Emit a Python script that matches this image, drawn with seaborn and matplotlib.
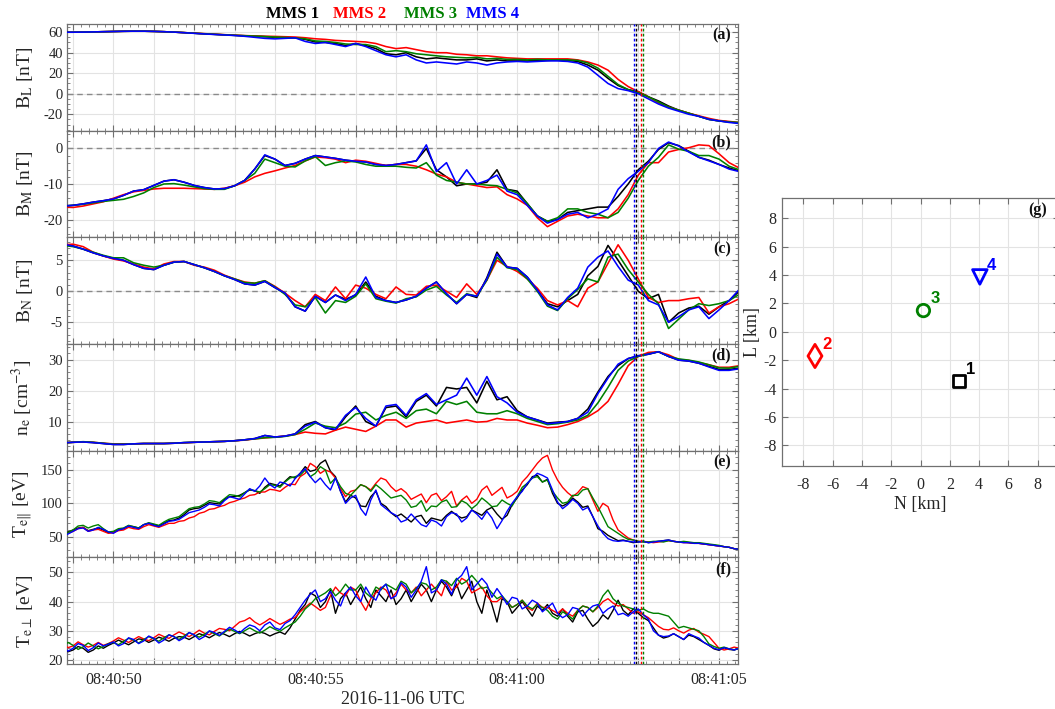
import numpy as np
import pandas as pd
import matplotlib
matplotlib.use("Agg")
import matplotlib.pyplot as plt
import seaborn as sns
from matplotlib.ticker import MultipleLocator, AutoMinorLocator

# ---------------- data ----------------
sc_names = ["MMS 1", "MMS 2", "MMS 3", "MMS 4"]
sc_colors = ["#000000", "#ff0000", "#008000", "#0000ff"]

# time: seconds after 08:40:50 UTC, 0.25 s samples
t_start, dt, n_pts = -1.25, 0.25, 68
time_s = t_start + dt * np.arange(n_pts)

tick_times = [0, 5, 10, 15]
tick_labels = ["08:40:50", "08:40:55", "08:41:00", "08:41:05"]

# crossing times (s after 08:40:50) for MMS1..4
cross_t = [12.95, 13.07, 13.11, 12.90]

BL1 = [60.0, 60.0, 60.1, 60.3, 60.5, 60.7, 60.9, 61.0, 61.0, 60.8, 60.5, 60.1,
       59.6, 59.0, 58.4, 57.9, 57.4, 56.9, 56.5, 56.2, 55.6, 55.0, 54.6, 54.5,
       53.0, 50.5, 50.0, 49.0, 47.0, 49.0, 47.0, 44.0, 39.0, 38.0, 40.0, 36.0,
       34.0, 35.0, 34.0, 33.0, 33.0, 34.0, 32.0, 33.0, 32.0, 32.0, 32.0, 32.5,
       32.5, 33.0, 32.5, 31.5, 28.0, 23.0, 15.0, 8.0, 4.0, 2.0, -3.0, -7.0,
       -12.0, -16.0, -19.0, -22.0, -25.0, -26.5, -27.5, -28.5]
BL2 = [60.0, 60.0, 60.1, 60.3, 60.5, 60.7, 60.9, 61.0, 61.0, 60.8, 60.5, 60.1,
       59.6, 59.1, 58.6, 58.1, 57.6, 57.1, 56.7, 56.4, 56.1, 55.9, 55.6, 55.3,
       54.6, 53.6, 53.0, 52.0, 51.5, 51.0, 50.5, 49.0, 46.0, 44.0, 45.0, 43.0,
       41.0, 40.0, 40.0, 38.5, 38.0, 37.0, 37.0, 36.0, 35.0, 34.5, 34.0, 34.0,
       34.0, 34.0, 34.0, 33.0, 31.0, 28.0, 23.0, 14.0, 7.0, 2.0, -3.0, -9.0,
       -13.0, -16.0, -19.0, -21.5, -24.0, -26.0, -27.0, -28.0]
BL3 = [60.0, 60.0, 60.1, 60.3, 60.5, 60.7, 60.9, 61.0, 61.0, 60.8, 60.5, 60.1,
       59.6, 59.0, 58.5, 58.0, 57.5, 57.0, 56.6, 56.2, 55.8, 55.3, 54.9, 54.5,
       53.5, 51.5, 51.0, 50.0, 48.5, 48.0, 48.0, 46.0, 41.0, 42.0, 41.0, 39.0,
       38.0, 37.0, 36.0, 35.5, 35.0, 35.5, 34.0, 34.5, 33.5, 33.5, 33.0, 33.5,
       33.0, 33.0, 33.0, 32.5, 30.0, 25.0, 17.0, 9.0, 4.0, 1.0, -3.0, -8.0,
       -13.0, -16.0, -19.0, -22.0, -25.0, -26.5, -27.5, -28.0]
BL4 = [60.0, 60.0, 60.1, 60.3, 60.5, 60.7, 60.9, 61.0, 61.0, 60.8, 60.5, 60.1,
       59.5, 58.9, 58.3, 57.8, 57.3, 56.8, 56.0, 55.0, 54.0, 53.5, 54.0, 54.5,
       51.0, 49.0, 50.0, 48.0, 46.0, 49.0, 46.0, 42.0, 38.0, 36.0, 38.0, 33.0,
       30.0, 31.0, 30.0, 29.0, 31.0, 30.0, 28.0, 30.0, 31.0, 31.5, 31.0, 31.5,
       32.0, 32.0, 31.5, 30.0, 26.0, 18.0, 10.0, 5.0, 3.0, 0.0, -5.0, -10.0,
       -14.0, -17.0, -20.0, -22.0, -25.0, -26.5, -28.0, -29.0]

BM1 = [-16.2, -16.0, -15.6, -15.1, -14.7, -14.2, -13.2, -12.0, -11.6, -10.4, -9.2, -8.8,
       -9.5, -10.4, -11.0, -11.4, -11.3, -10.5, -9.0, -5.8, -2.0, -3.0, -4.8, -4.2,
       -3.0, -2.0, -2.4, -2.8, -3.3, -3.6, -3.8, -4.5, -4.8, -4.5, -4.0, -3.5,
       0.0, -6.0, -8.0, -10.5, -10.0, -10.0, -9.5, -6.0, -11.5, -12.0, -15.5, -19.0,
       -20.5, -20.0, -18.0, -17.5, -17.0, -16.5, -16.5, -13.5, -10.0, -6.0, -3.6, -0.3,
       1.6, 0.8, -0.8, -2.5, -3.3, -4.5, -5.5, -6.3]
BM2 = [-16.5, -16.6, -16.2, -15.6, -15.0, -14.0, -13.0, -12.2, -11.8, -11.4, -11.2, -11.2,
       -11.2, -11.3, -11.4, -11.5, -11.2, -10.5, -9.5, -8.0, -7.0, -6.3, -5.5, -4.8,
       -3.5, -2.4, -2.6, -3.0, -4.0, -3.3, -3.6, -4.2, -4.8, -4.5, -4.5, -5.0,
       -6.0, -7.2, -8.0, -9.5, -10.0, -10.5, -11.0, -10.8, -13.0, -14.2, -16.0, -19.5,
       -22.0, -20.5, -19.0, -18.5, -19.0, -19.5, -19.5, -17.0, -13.0, -7.5, -4.0, -4.0,
       -1.0, -0.3, 0.2, 1.0, 0.8, -1.5, -4.0, -5.5]
BM3 = [-16.2, -16.0, -15.7, -15.3, -14.9, -14.6, -14.3, -13.5, -12.5, -11.0, -10.0, -9.9,
       -10.3, -10.8, -11.3, -11.5, -11.5, -10.5, -9.0, -7.0, -3.0, -4.0, -5.0, -5.2,
       -3.5, -2.3, -4.8, -4.0, -3.5, -3.8, -4.5, -5.0, -5.0, -5.0, -5.3, -5.5,
       -4.0, -7.5, -9.0, -9.5, -10.0, -10.0, -10.3, -10.5, -11.5, -12.5, -15.5, -19.0,
       -20.5, -19.5, -17.0, -17.0, -18.0, -18.5, -19.5, -18.0, -14.0, -9.0, -5.0, -2.5,
       1.0, -0.2, -0.8, -2.0, -2.0, -3.0, -5.0, -6.0]
BM4 = [-16.2, -16.0, -15.6, -15.1, -14.7, -14.2, -13.2, -12.0, -11.6, -10.4, -9.2, -8.8,
       -9.5, -10.4, -11.0, -11.4, -11.3, -10.5, -9.0, -5.8, -1.8, -3.0, -4.8, -4.2,
       -3.0, -2.0, -2.4, -2.8, -3.3, -3.6, -3.8, -4.5, -4.8, -4.5, -4.0, -3.5,
       1.0, -6.5, -4.0, -10.0, -6.0, -10.0, -9.0, -7.5, -12.0, -13.0, -16.0, -19.0,
       -21.0, -20.0, -18.5, -18.0, -19.5, -18.5, -17.0, -11.5, -8.5, -6.4, -4.0, 0.0,
       1.8, 0.7, -1.0, -2.5, -3.5, -4.5, -5.8, -6.5]

BN1 = [7.6, 7.3, 6.8, 6.2, 5.7, 5.3, 5.0, 4.3, 3.7, 3.5, 4.2, 4.7,
       4.8, 4.3, 3.8, 3.2, 2.5, 1.9, 1.2, 1.0, 1.6, 0.6, -0.3, -2.5,
       -3.2, -0.8, -1.8, -0.6, -1.3, -0.6, 1.5, -0.8, -1.5, -1.8, -1.4, -0.8,
       0.5, 1.5, -0.4, -2.0, -0.5, -1.0, 2.2, 6.3, 3.9, 3.7, 2.3, 0.2,
       -2.0, -2.5, -1.5, -0.5, 2.5, 4.0, 7.4, 5.0, 2.5, 0.0, -1.2, -0.5,
       -5.0, -3.5, -2.7, -2.4, -3.7, -2.5, -1.5, 0.0]
BN2 = [7.5, 7.6, 7.2, 6.3, 5.7, 5.2, 4.9, 4.4, 3.9, 3.6, 4.4, 4.8,
       4.8, 4.2, 3.9, 3.4, 2.6, 2.0, 1.5, 1.3, 1.7, 0.8, -0.3, -1.5,
       -2.5, -0.5, -1.5, 0.7, -1.2, 1.0, 0.5, -0.5, -1.2, 0.7, -0.5, -0.6,
       0.8, 1.0, 0.0, -1.0, 1.2, -0.5, 1.8, 5.0, 4.0, 3.2, 2.0, 0.5,
       -1.5, -2.2, -1.5, -2.5, 0.5, 1.5, 4.5, 7.5, 5.0, 2.0, -1.0, -1.8,
       -1.5, -1.5, -1.2, -1.0, -3.5, -2.5, -2.0, -1.2]
BN3 = [7.4, 7.2, 6.8, 6.3, 5.8, 5.4, 5.4, 4.6, 4.2, 3.9, 4.2, 4.7,
       4.8, 4.3, 3.8, 3.2, 2.5, 2.0, 1.4, 1.3, 1.7, 0.7, -0.5, -2.2,
       -2.5, -1.0, -3.5, -1.5, -1.8, -0.8, 1.2, -1.2, -1.6, -1.9, -1.2, -0.9,
       0.2, 0.8, -0.6, -1.8, -0.4, -0.8, 1.8, 5.5, 3.8, 3.5, 2.0, 0.0,
       -2.4, -3.1, -1.2, 0.3, 2.0, 1.5, 5.5, 6.0, 3.5, 1.5, -0.5, -2.0,
       -6.0, -4.5, -3.0, -2.0, -2.3, -2.0, -1.5, -0.5]
BN4 = [7.6, 7.3, 6.8, 6.2, 5.7, 5.3, 5.0, 4.3, 3.7, 3.5, 4.2, 4.7,
       4.8, 4.3, 3.8, 3.2, 2.5, 1.9, 1.2, 1.0, 1.6, 0.6, -0.3, -2.5,
       -3.2, -0.8, -1.8, -0.6, -1.5, -0.5, 2.3, -1.0, -1.5, -1.8, -1.4, -0.8,
       0.5, 1.5, -0.4, -2.0, -0.5, -0.8, 2.0, 6.0, 3.9, 3.7, 2.3, 0.2,
       -2.2, -3.0, -1.0, 0.5, 3.9, 5.5, 6.5, 4.0, 1.8, 1.0, -1.5, -2.2,
       -5.0, -4.1, -3.0, -2.5, -4.4, -3.0, -1.5, 0.3]

NE1 = [3.1, 3.3, 3.4, 3.2, 2.9, 2.6, 2.6, 2.8, 2.9, 2.9, 2.9, 3.0,
       3.2, 3.3, 3.4, 3.5, 3.6, 3.8, 4.1, 4.5, 5.5, 5.0, 5.3, 6.0,
       9.0, 10.0, 8.0, 7.2, 11.5, 15.0, 10.0, 8.5, 14.5, 15.0, 11.5, 16.5,
       18.5, 15.0, 21.0, 20.5, 21.0, 16.0, 23.0, 17.0, 18.0, 13.5, 11.5, 10.5,
       9.5, 9.8, 10.0, 11.0, 14.0, 19.5, 24.5, 28.0, 30.3, 31.2, 31.7, 32.5,
       31.0, 29.8, 29.5, 28.8, 27.8, 26.8, 26.8, 27.2]
NE2 = [3.1, 3.3, 3.4, 3.3, 3.0, 2.8, 2.8, 2.8, 2.9, 2.9, 2.9, 3.0,
       3.1, 3.3, 3.4, 3.5, 3.6, 3.8, 4.0, 4.4, 4.7, 5.0, 5.3, 5.8,
       6.6, 6.2, 6.0, 7.2, 8.2, 7.5, 6.8, 8.5, 10.5, 10.5, 8.2, 9.5,
       10.0, 10.5, 9.5, 10.0, 10.5, 9.8, 10.0, 11.0, 10.5, 10.5, 9.5, 8.8,
       8.0, 8.2, 9.0, 10.0, 11.5, 13.5, 16.5, 22.0, 28.0, 31.0, 32.3, 32.5,
       31.5, 30.0, 29.7, 29.0, 28.3, 27.5, 27.5, 28.0]
NE3 = [3.1, 3.3, 3.5, 3.3, 3.0, 2.7, 2.7, 2.8, 2.9, 2.9, 2.9, 3.0,
       3.2, 3.3, 3.4, 3.5, 3.6, 3.8, 4.1, 4.4, 4.8, 4.9, 5.2, 5.8,
       7.5, 9.5, 8.5, 8.0, 9.5, 12.4, 13.0, 10.5, 12.0, 13.0, 11.0, 13.5,
       14.0, 12.5, 16.5, 15.5, 16.5, 13.0, 12.5, 12.5, 13.5, 12.5, 11.0, 10.0,
       9.0, 9.3, 9.8, 10.5, 12.0, 16.0, 21.0, 26.5, 29.5, 31.0, 31.8, 32.5,
       31.0, 30.2, 29.8, 29.2, 28.3, 27.3, 27.2, 27.8]
NE4 = [3.1, 3.3, 3.4, 3.2, 2.9, 2.6, 2.6, 2.8, 2.9, 2.9, 2.9, 3.0,
       3.2, 3.3, 3.4, 3.5, 3.6, 3.8, 4.1, 4.5, 5.5, 5.0, 5.3, 6.0,
       8.5, 9.8, 8.0, 7.5, 12.0, 14.5, 11.0, 8.5, 15.0, 15.5, 12.0, 17.0,
       19.0, 15.5, 17.0, 18.5, 24.0, 18.5, 24.5, 18.0, 16.0, 13.0, 11.5, 10.5,
       9.3, 9.6, 10.0, 11.0, 13.0, 19.0, 24.0, 28.5, 30.3, 31.2, 31.7, 32.5,
       31.0, 29.8, 29.5, 28.8, 27.6, 26.5, 26.5, 27.0]

# electron temperatures: samples on the 0.25 s grid plus samples in between
TPA1 = [50, 60, 64, 61, 60, 57, 62, 65, 68, 68, 70, 75,
        83, 92, 97, 100, 106, 110, 116, 119, 124, 128, 133, 138,
        155, 150, 165, 140, 102, 108, 95, 118, 95, 80, 78, 80,
        70, 76, 82, 82, 80, 86, 90, 84, 82, 108, 128, 142,
        136, 100, 100, 102, 96, 62, 52, 44, 43, 42, 41, 43,
        45, 42, 41, 40, 38, 36, 34, 31]
TPA1_mid = [57, 63, 59, 63, 56, 60, 66, 63, 70, 66, 74, 78,
            90, 93, 101, 99, 110, 112, 120, 115, 130, 126, 140, 145,
            148, 160, 148, 118, 112, 96, 110, 100, 86, 84, 72, 82,
            78, 74, 88, 78, 90, 82, 94, 76, 98, 120, 140, 132,
            115, 96, 108, 94, 80, 58, 48, 45, 41, 43, 42, 44,
            43, 42, 40, 39, 37, 35, 32]
TPA2 = [50, 58, 64, 60, 58, 56, 60, 62, 65, 66, 67, 70,
        74, 80, 87, 92, 97, 103, 108, 113, 117, 120, 124, 128,
        145, 155, 150, 138, 110, 120, 125, 130, 135, 118, 116, 110,
        101, 115, 110, 96, 111, 106, 126, 118, 108, 118, 140, 160,
        172, 135, 116, 116, 122, 88, 95, 60, 48, 43, 42, 42,
        44, 42, 41, 40, 38, 36, 34, 31]
TPA2_mid = [55, 62, 58, 61, 55, 59, 64, 61, 68, 64, 70, 73,
            78, 85, 91, 95, 101, 106, 112, 117, 121, 118, 129, 140,
            160, 145, 147, 122, 118, 128, 120, 138, 125, 122, 106, 114,
            112, 104, 118, 105, 100, 120, 112, 124, 112, 132, 150, 168,
            150, 124, 110, 125, 105, 100, 75, 54, 45, 43, 41, 43,
            43, 41, 40, 39, 37, 35, 32]
TPA3 = [50, 60, 67, 66, 62, 58, 63, 65, 68, 69, 72, 78,
        86, 94, 99, 103, 107, 112, 116, 119, 122, 127, 132, 140,
        150, 145, 150, 138, 115, 120, 125, 128, 115, 110, 105, 96,
        88, 95, 105, 95, 100, 98, 102, 96, 100, 110, 130, 140,
        135, 108, 102, 112, 122, 95, 65, 55, 46, 43, 42, 43,
        44, 42, 42, 41, 39, 37, 34, 31]
TPA3_mid = [56, 66, 63, 68, 57, 62, 67, 63, 71, 67, 76, 80,
            92, 95, 104, 101, 113, 110, 121, 117, 128, 124, 138, 142,
            140, 155, 130, 125, 112, 128, 118, 122, 108, 112, 94, 104,
            96, 102, 94, 104, 92, 108, 95, 105, 96, 124, 138, 132,
            118, 100, 112, 120, 108, 80, 60, 50, 45, 42, 43, 42,
            43, 43, 41, 40, 38, 35, 32]
TPA4 = [50, 58, 63, 60, 61, 55, 62, 64, 68, 67, 69, 74,
        81, 88, 94, 98, 104, 108, 114, 118, 138, 123, 130, 137,
        152, 131, 128, 138, 100, 112, 82, 120, 92, 82, 75, 76,
        65, 72, 80, 84, 78, 84, 88, 62, 88, 110, 130, 145,
        138, 102, 98, 100, 94, 66, 47, 43, 43, 42, 41, 43,
        45, 42, 41, 40, 38, 36, 34, 31]
TPA4_mid = [54, 62, 58, 64, 57, 60, 66, 62, 70, 65, 73, 76,
            86, 90, 99, 96, 110, 106, 122, 126, 128, 132, 126, 145,
            140, 138, 120, 118, 108, 92, 105, 98, 86, 72, 84, 68,
            75, 66, 86, 72, 90, 76, 78, 74, 100, 118, 138, 142,
            120, 92, 106, 90, 80, 55, 44, 44, 42, 43, 42, 44,
            43, 41, 40, 39, 37, 35, 32]

TPE1 = [24.0, 23.4, 24.0, 23.4, 24.0, 25.8, 26.0, 26.2, 27.0, 26.8, 27.2, 27.4,
        27.8, 28.0, 28.4, 28.6, 28.8, 29.0, 29.1, 29.0, 29.1, 29.0, 28.8, 34.0,
        39.0, 42.0, 40.0, 36.0, 43.0, 42.0, 41.0, 44.0, 40.0, 39.0, 44.0, 43.0,
        44.0, 44.0, 45.0, 46.0, 44.0, 40.0, 44.0, 33.0, 40.0, 38.0, 37.5, 38.5,
        39.0, 35.0, 35.0, 36.5, 34.0, 33.0, 34.0, 40.5, 35.5, 36.0, 33.5, 28.5,
        28.0, 28.0, 28.5, 27.0, 25.0, 23.3, 23.6, 24.0]
TPE1_mid = [22.8, 24.6, 22.6, 24.8, 25.0, 26.8, 25.2, 27.2, 26.0, 27.8, 26.4, 28.0,
            27.0, 29.0, 27.6, 29.4, 28.0, 29.8, 28.2, 29.6, 28.2, 29.6, 31.0, 37.0,
            43.0, 38.0, 44.0, 41.0, 39.0, 45.0, 38.0, 42.0, 44.0, 41.0, 40.0, 46.0,
            40.0, 47.0, 42.0, 41.0, 47.0, 36.0, 39.0, 41.0, 36.0, 40.0, 35.0, 37.0,
            36.0, 37.5, 33.0, 37.0, 31.5, 35.5, 37.0, 37.0, 37.5, 34.5, 31.0, 27.5,
            29.0, 27.0, 28.0, 26.0, 23.8, 24.2, 23.4]
TPE2 = [25.5, 24.8, 25.2, 25.0, 25.0, 26.5, 26.8, 27.0, 27.2, 27.6, 28.0, 28.6,
        28.8, 29.0, 29.2, 29.8, 30.5, 31.5, 33.5, 33.0, 33.0, 33.2, 33.0, 34.5,
        38.0, 38.3, 38.0, 45.0, 42.0, 44.0, 37.0, 43.0, 44.0, 43.0, 44.0, 45.0,
        44.0, 44.0, 47.0, 45.0, 47.0, 44.0, 42.0, 40.0, 40.0, 39.0, 38.0, 39.5,
        38.0, 36.0, 36.0, 37.0, 38.0, 38.0, 41.0, 38.5, 37.5, 36.5, 34.5, 31.5,
        30.3, 30.0, 30.2, 29.5, 28.0, 24.0, 23.8, 24.0]
TPE2_mid = [24.2, 26.2, 24.4, 26.0, 25.6, 27.6, 26.0, 28.0, 26.6, 28.8, 27.4, 29.6,
            28.0, 30.2, 28.6, 30.8, 30.0, 33.0, 34.5, 32.0, 34.2, 32.2, 34.0, 36.5,
            39.5, 37.0, 42.0, 43.0, 45.0, 40.0, 41.0, 45.0, 41.0, 46.0, 43.0, 42.0,
            46.0, 42.0, 44.0, 48.0, 43.0, 45.0, 40.0, 41.5, 38.0, 40.5, 37.0, 38.0,
            37.0, 37.5, 35.0, 38.5, 36.5, 40.0, 39.5, 39.0, 36.0, 35.5, 33.0, 30.5,
            31.0, 29.2, 30.8, 28.8, 26.0, 23.4, 24.4]
TPE3 = [24.6, 25.0, 24.5, 24.8, 24.6, 26.0, 26.4, 26.8, 27.0, 27.2, 27.6, 28.0,
        28.2, 28.5, 28.8, 29.0, 29.5, 29.8, 30.0, 30.0, 30.2, 30.5, 31.0, 33.0,
        37.5, 41.0, 43.0, 42.0, 46.0, 44.0, 43.0, 45.0, 46.0, 44.0, 46.0, 44.5,
        46.0, 45.0, 47.0, 48.0, 47.0, 47.0, 45.0, 41.0, 40.0, 39.0, 38.5, 39.0,
        37.0, 34.0, 35.5, 37.0, 38.0, 38.5, 44.0, 39.5, 38.0, 37.0, 36.5, 36.0,
        35.0, 31.0, 31.0, 30.0, 25.5, 24.0, 23.8, 24.0]
TPE3_mid = [26.0, 23.6, 25.8, 23.8, 25.6, 25.2, 27.4, 25.8, 28.0, 26.4, 28.6, 27.0,
            29.4, 27.8, 29.8, 28.2, 30.6, 29.0, 31.0, 29.2, 31.4, 29.8, 32.0, 35.0,
            39.0, 42.0, 44.5, 43.5, 44.0, 46.0, 41.5, 44.0, 45.0, 47.0, 43.0, 46.5,
            44.0, 47.5, 45.5, 46.0, 49.0, 44.5, 43.0, 42.0, 38.0, 40.5, 37.5, 38.0,
            35.0, 36.5, 34.0, 38.5, 36.5, 42.0, 41.0, 38.5, 37.5, 37.5, 36.0, 35.5,
            33.0, 31.5, 30.5, 28.0, 24.6, 24.4, 23.5]
TPE4 = [24.6, 24.0, 25.0, 24.2, 24.8, 26.2, 25.6, 27.0, 26.5, 27.4, 26.8, 28.0,
        27.6, 28.6, 28.0, 29.4, 29.8, 30.3, 30.8, 31.4, 32.0, 31.0, 32.5, 35.5,
        40.5, 44.0, 41.0, 40.5, 43.0, 42.0, 45.0, 40.5, 46.0, 42.0, 45.0, 44.0,
        52.0, 44.0, 46.0, 47.5, 52.0, 46.0, 46.0, 44.5, 39.0, 41.0, 38.5, 39.5,
        38.0, 36.0, 35.5, 37.5, 37.0, 39.0, 37.5, 35.5, 35.0, 37.5, 34.0, 28.5,
        28.2, 28.0, 29.0, 27.5, 25.0, 23.5, 23.8, 24.0]
TPE4_mid = [23.0, 25.6, 23.2, 25.8, 25.4, 24.8, 27.6, 25.6, 28.2, 25.8, 28.6, 26.6,
            29.4, 27.0, 30.0, 28.4, 31.2, 29.2, 32.0, 30.0, 33.0, 30.4, 33.5, 38.0,
            42.5, 40.0, 43.5, 38.5, 45.0, 40.0, 42.0, 44.5, 41.0, 46.5, 41.5, 47.0,
            43.0, 47.5, 42.5, 49.0, 44.0, 48.0, 41.5, 42.0, 41.5, 37.5, 40.5, 36.5,
            39.5, 34.5, 38.0, 35.0, 38.5, 36.0, 38.5, 36.0, 36.5, 35.5, 30.0, 28.0,
            29.0, 27.0, 28.2, 26.0, 24.0, 24.2, 23.4]

# spacecraft positions (panel g), km
pos_N = [2.64, -7.2, 0.2, 4.05]
pos_L = [-3.48, -1.7, 1.5, 3.87]
sc_tags = ["1", "2", "3", "4"]


def interleave(main, mid):
    out = np.empty(len(main) + len(mid))
    out[0::2] = main
    out[1::2] = mid
    return out


time_fine = t_start + 0.5 * dt * np.arange(2 * n_pts - 1)

# ---------------- style ----------------
sns.set_theme(style="ticks")
plt.rcParams["font.family"] = ["Liberation Serif", "DejaVu Serif"]
plt.rcParams["mathtext.fontset"] = "stix"
plt.rcParams["axes.unicode_minus"] = False

SPINE = "#707070"
GRID = "#e3e3e3"
TXT = "#262626"

fig = plt.figure(figsize=(10.55, 7.09), dpi=100)
W, H = 1055.0, 709.0

panels = [
    (time_s, [BL1, BL2, BL3, BL4], (-36, 68), 20, 4, r"B$_\mathrm{L}$ [nT]", True, "(a)", 1.15),
    (time_s, [BM1, BM2, BM3, BM4], (-25, 5), 10, 5, r"B$_\mathrm{M}$ [nT]", True, "(b)", 1.15),
    (time_s, [BN1, BN2, BN3, BN4], (-8.5, 8.7), 5, 5, r"B$_\mathrm{N}$ [nT]", True, "(c)", 1.15),
    (time_s, [NE1, NE2, NE3, NE4], (0.6, 35), 10, 5, r"n$_\mathrm{e}$ [cm$^{-3}$]", False, "(d)", 1.15),
    (time_fine, [interleave(TPA1, TPA1_mid), interleave(TPA2, TPA2_mid),
                 interleave(TPA3, TPA3_mid), interleave(TPA4, TPA4_mid)],
     (19, 179), 50, 5, r"T$_{\mathrm{e}\Vert}$ [eV]", False, "(e)", 1.0),
    (time_fine, [interleave(TPE1, TPE1_mid), interleave(TPE2, TPE2_mid),
                 interleave(TPE3, TPE3_mid), interleave(TPE4, TPE4_mid)],
     (18.6, 55.2), 10, 5, r"T$_{\mathrm{e}\perp}$ [eV]", False, "(f)", 1.0),
]

left_px, right_px, top_px, ph = 67.0, 738.0, 24.0, 640.0 / 6
xlim = (-1.15, 15.47)

for i, (tt, series, ylim, major, nminor, ylabel, zero, tag, lw) in enumerate(panels):
    y0 = top_px + i * ph
    ax = fig.add_axes([left_px / W, 1 - (y0 + ph) / H, (right_px - left_px) / W, ph / H])
    npt = len(tt)
    df = pd.DataFrame({
        "time": np.tile(tt, 4),
        "value": np.concatenate([np.asarray(s, float) for s in series]),
        "sc": np.repeat(sc_names, npt),
    })
    sns.lineplot(data=df, x="time", y="value", hue="sc", hue_order=sc_names,
                 palette=sc_colors, estimator=None, sort=False, lw=lw,
                 legend=False, ax=ax, zorder=3)
    if zero:
        ax.axhline(0, color="#8a8a8a", lw=1.0, ls=(0, (4, 3)), zorder=2)
    for c, tc in zip(sc_colors, cross_t):
        ax.axvline(tc, color=c, lw=1.0, ls=(0, (2.0, 1.6)), zorder=4)
    ax.set_xlim(*xlim)
    ax.set_ylim(*ylim)
    ax.xaxis.set_major_locator(MultipleLocator(1))
    ax.yaxis.set_major_locator(MultipleLocator(major))
    ax.yaxis.set_minor_locator(AutoMinorLocator(nminor))
    ax.xaxis.set_minor_locator(AutoMinorLocator(5))
    ax.grid(True, which="major", color=GRID, lw=0.8)
    ax.set_axisbelow(True)
    ax.tick_params(which="both", direction="in", top=True, right=True,
                   color=SPINE, labelcolor=TXT)
    ax.tick_params(which="major", length=4.5, width=0.8)
    ax.tick_params(which="minor", length=2.2, width=0.6)
    ax.tick_params(axis="y", labelsize=10.5, pad=3)
    for sp in ax.spines.values():
        sp.set_color(SPINE)
        sp.set_linewidth(0.9)
    ax.set_ylabel(ylabel, fontsize=14, color=TXT)
    ax.yaxis.set_label_coords(-0.047, 0.5)
    ax.text(0.99, 0.965, tag, transform=ax.transAxes, ha="right", va="top",
            fontsize=11.5, fontweight="bold", color="#111111", zorder=6)
    if i < 5:
        ax.tick_params(axis="x", labelbottom=False)
        ax.set_xlabel("")
    else:
        ticks = list(range(-1, 16))
        ax.set_xticks(ticks)
        ax.set_xticklabels([tick_labels[tick_times.index(t)] if t in tick_times else ""
                            for t in ticks])
        ax.tick_params(axis="x", labelsize=11.5, pad=6)
        ax.set_xlabel("2016-11-06 UTC", fontsize=13, color=TXT, labelpad=2)

# legend-like title row
for name, c, xc in zip(sc_names, sc_colors, [292.5, 360, 431, 493]):
    fig.text(xc / W, 1 - 13.5 / H, name, color=c, ha="center", va="center",
             fontsize=12, fontweight="bold")

# ---------------- panel g ----------------
gx0, gx1, gy0, gy1 = 782.3, 1058.7, 198.0, 465.7
axg = fig.add_axes([gx0 / W, 1 - gy1 / H, (gx1 - gx0) / W, (gy1 - gy0) / H])
pos_df = pd.DataFrame({"N": pos_N, "L": pos_L, "sc": sc_names})
markers = ["s", "d", "o", "v"]
msizes = [75, 140, 80, 110]
for name, c, m, s in zip(sc_names, sc_colors, markers, msizes):
    sns.scatterplot(data=pos_df[pos_df["sc"] == name], x="N", y="L", marker=m,
                    s=s, color=c, ax=axg, legend=False, zorder=5)
for coll, c in zip(axg.collections, sc_colors):
    coll.set_facecolor("none")
    coll.set_edgecolor(c)
    coll.set_linewidth(2.0)
for n_, l_, tg, c in zip(pos_N, pos_L, sc_tags, sc_colors):
    axg.annotate(tg, (n_, l_), xytext=(5, 3), textcoords="offset points",
                 color=c, fontsize=12, fontweight="bold", family="Liberation Sans",
                 ha="left", va="bottom")
axg.set_xlim(-9.43, 9.43)
axg.set_ylim(-9.43, 9.43)
axg.xaxis.set_major_locator(MultipleLocator(2))
axg.yaxis.set_major_locator(MultipleLocator(2))
axg.grid(True, color=GRID, lw=0.8)
axg.set_axisbelow(True)
axg.tick_params(direction="in", top=True, right=True, length=4.5, width=0.8,
                color=SPINE, labelcolor=TXT, labelsize=11.5)
axg.tick_params(axis="x", pad=8)
axg.tick_params(axis="y", pad=4)
for sp in axg.spines.values():
    sp.set_color(SPINE)
    sp.set_linewidth(0.9)
axg.set_xlabel("N [km]", fontsize=13, color=TXT, labelpad=2)
axg.set_ylabel("L [km]", fontsize=13, color=TXT)
axg.yaxis.set_label_coords(-0.078, 0.5)
axg.text(0.958, 0.985, "(g)", transform=axg.transAxes, ha="right", va="top",
         fontsize=11.5, fontweight="bold", color="#111111")

fig.savefig("out.png", dpi=100)
